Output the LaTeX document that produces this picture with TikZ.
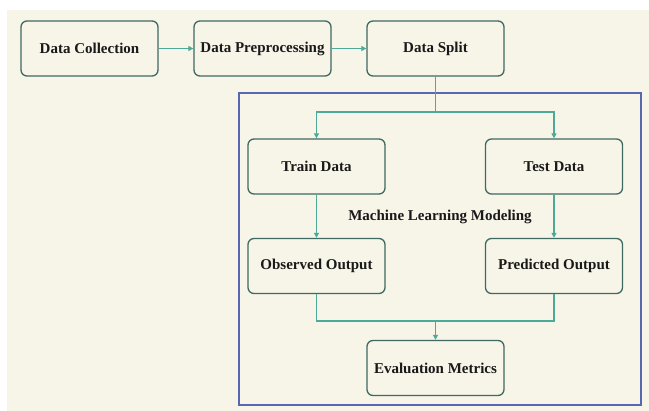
\documentclass[tikz,border=0pt]{standalone}
\usepackage{fontspec}
\setmainfont{Liberation Serif}
\usetikzlibrary{arrows.meta}
\definecolor{bgc}{HTML}{F7F4E8}
\definecolor{boxc}{HTML}{3E6A62}
\definecolor{arrc}{HTML}{4DAA99}
\definecolor{framec}{HTML}{5868B0}
\begin{document}
\begin{tikzpicture}[x=1pt,y=-1pt,
  stepbox/.style={draw=boxc, line width=1.3pt, rounded corners=6pt, fill=bgc,
    minimum width=137pt, minimum height=55pt, inner sep=1pt,
    font=\bfseries\fontsize{15}{17}\selectfont, text=black!90},
  conn/.style={draw=arrc, line width=1.3pt},
  arr/.style={conn, -{Triangle[length=5pt,width=5pt]}},
  lbl/.style={font=\bfseries\fontsize{15}{17}\selectfont, text=black!90}]
\useasboundingbox (0,0) rectangle (649,411);
\fill[bgc] (7,10) rectangle (649,411);
\draw[framec, line width=1.4pt] (239,93) rectangle (641,405);
\node[stepbox] (dc) at (89.5,48.5) {Data Collection};
\node[stepbox] (dp) at (262.5,48.5) {Data Preprocessing};
\node[stepbox] (ds) at (435.5,48.5) {Data Split};
\node[stepbox] (train) at (316.5,166.5) {Train Data};
\node[stepbox] (test) at (554,166.5) {Test Data};
\node[stepbox] (obs) at (316.5,266) {Observed Output};
\node[stepbox] (pred) at (554,266) {Predicted Output};
\node[stepbox] (eval) at (435.5,368) {Evaluation Metrics};
\node[lbl] (ml) at (440,217) {Machine Learning Modeling};
\coordinate (split) at (435.5,112);
\coordinate (merge) at (435.5,321);
\draw[arr] (dc) -- (dp);
\draw[arr] (dp) -- (ds);
\draw[conn] (ds.south) -- (split);
\draw[arr] (split) -| (train.north);
\draw[arr] (split) -| (test.north);
\draw[arr] (train) -- (obs);
\draw[arr] (test) -- (pred);
\draw[conn] (obs.south) |- (merge);
\draw[conn] (pred.south) |- (merge);
\draw[arr] (merge) -- (eval.north);
\end{tikzpicture}
\end{document}
